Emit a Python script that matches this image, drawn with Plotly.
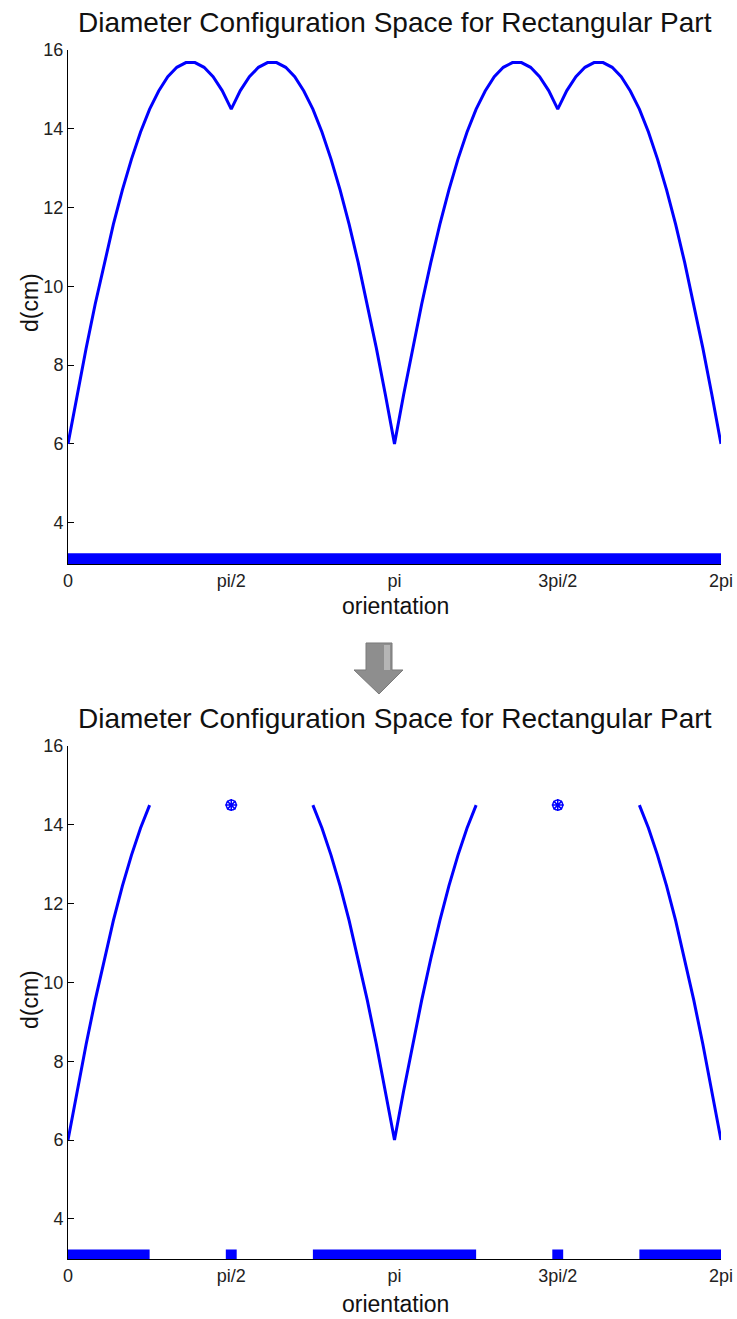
import plotly.graph_objects as go

W, H = 737, 1319

# ---------------- data ----------------
orientation_deg = [0, 5, 10, 15, 20, 25, 30, 35, 40, 45, 50, 55, 60, 65, 70, 75, 80, 85,
                   90, 95, 100, 105, 110, 115, 120, 125, 130, 135, 140, 145, 150, 155, 160, 165, 170, 175,
                   180, 185, 190, 195, 200, 205, 210, 215, 220, 225, 230, 235, 240, 245, 250, 255, 260, 265,
                   270, 275, 280, 285, 290, 295, 300, 305, 310, 315, 320, 325, 330, 335, 340, 345, 350, 355,
                   360]
diameter_cm = [6.00, 7.24, 8.43, 9.55, 10.60, 11.57, 12.45, 13.23, 13.92, 14.50, 14.96, 15.32, 15.56, 15.68, 15.68, 15.56, 15.32, 14.97,
               14.50, 14.97, 15.32, 15.56, 15.68, 15.68, 15.56, 15.32, 14.96, 14.50, 13.92, 13.23, 12.45, 11.57, 10.60, 9.55, 8.43, 7.24,
               6.00, 7.24, 8.43, 9.55, 10.60, 11.57, 12.45, 13.23, 13.92, 14.50, 14.96, 15.32, 15.56, 15.68, 15.68, 15.56, 15.32, 14.97,
               14.50, 14.97, 15.32, 15.56, 15.68, 15.68, 15.56, 15.32, 14.96, 14.50, 13.92, 13.23, 12.45, 11.57, 10.60, 9.55, 8.43, 7.24,
               6.00]
# feasible (d <= 14.5) part of the curve, shown in the lower panel
diameter_feasible = [6.00, 7.24, 8.43, 9.55, 10.60, 11.57, 12.45, 13.23, 13.92, 14.50, None, None, None, None, None, None, None, None,
                     None, None, None, None, None, None, None, None, None, 14.50, 13.92, 13.23, 12.45, 11.57, 10.60, 9.55, 8.43, 7.24,
                     6.00, 7.24, 8.43, 9.55, 10.60, 11.57, 12.45, 13.23, 13.92, 14.50, None, None, None, None, None, None, None, None,
                     None, None, None, None, None, None, None, None, None, 14.50, 13.92, 13.23, 12.45, 11.57, 10.60, 9.55, 8.43, 7.24,
                     6.00]
isolated_x = [90, 270]
isolated_d = [14.5, 14.5]

top_intervals = [(0, 360)]
bottom_intervals = [(0, 45), (87, 93), (135, 225), (267, 273), (315, 360)]
band_low, band_high = 2.85, 3.22

tick_vals = [0, 90, 180, 270, 360]
tick_text = ["0", "pi/2", "pi", "3pi/2", "2pi"]
y_ticks = [4, 6, 8, 10, 12, 14, 16]
title_text = "Diameter Configuration Space for Rectangular Part"

BLUE = "#0000ff"
FONT = "Liberation Sans, Arial, sans-serif"


def px_x(p):
    return p / W


def px_y(p):
    return 1 - p / H


def band_trace(intervals, xa, ya):
    xs, ys = [], []
    for a, b in intervals:
        xs += [a, b, b, a, a, None]
        ys += [band_low, band_low, band_high, band_high, band_low, None]
    return go.Scatter(x=xs, y=ys, fill="toself", fillcolor=BLUE, mode="lines",
                      line=dict(color=BLUE, width=0), xaxis=xa, yaxis=ya,
                      hoverinfo="skip", showlegend=False)


fig = go.Figure()

# top panel
fig.add_trace(go.Scatter(x=orientation_deg, y=diameter_cm, mode="lines",
                         line=dict(color=BLUE, width=3), xaxis="x", yaxis="y", showlegend=False))
fig.add_trace(band_trace(top_intervals, "x", "y"))

# bottom panel
fig.add_trace(go.Scatter(x=orientation_deg, y=diameter_feasible, mode="lines",
                         line=dict(color=BLUE, width=3), connectgaps=False,
                         xaxis="x2", yaxis="y2", showlegend=False))
fig.add_trace(go.Scatter(x=isolated_x, y=isolated_d, mode="markers",
                         marker=dict(symbol="circle-open", size=10, color=BLUE, line=dict(width=1.5, color=BLUE)),
                         xaxis="x2", yaxis="y2", showlegend=False))
fig.add_trace(go.Scatter(x=isolated_x, y=isolated_d, mode="markers",
                         marker=dict(symbol="asterisk-open", size=10, color=BLUE, line=dict(width=1.5, color=BLUE)),
                         xaxis="x2", yaxis="y2", showlegend=False))
fig.add_trace(band_trace(bottom_intervals, "x2", "y2"))

xdom = [px_x(68), px_x(721)]
axis_common = dict(showline=True, linecolor="black", linewidth=1, mirror=False,
                   showgrid=False, zeroline=False, ticks="inside", ticklen=6,
                   tickcolor="black", tickfont=dict(family=FONT, size=18, color="#222"),
                   layer="below traces", automargin=False)

fig.update_layout(
    width=W, height=H, margin=dict(l=0, r=0, t=0, b=0, pad=0),
    paper_bgcolor="white", plot_bgcolor="white", showlegend=False,
    xaxis=dict(domain=xdom, range=[0, 360], tickvals=tick_vals, ticktext=tick_text,
               anchor="y", **axis_common),
    yaxis=dict(domain=[px_y(564), px_y(50)], range=[2.95, 16], tickvals=y_ticks,
               anchor="x", **axis_common),
    xaxis2=dict(domain=xdom, range=[0, 360], tickvals=tick_vals, ticktext=tick_text,
                anchor="y2", **axis_common),
    yaxis2=dict(domain=[px_y(1259), px_y(746)], range=[2.98, 16], tickvals=y_ticks,
                anchor="x2", **axis_common),
)

ann_font_title = dict(family=FONT, size=28, color="#111")
ann_font_axis = dict(family=FONT, size=23, color="#111")
for ty, oy, dy in [(22, 606, 303), (718, 1304, 1000)]:
    fig.add_annotation(x=px_x(395), y=px_y(ty), xref="paper", yref="paper", text=title_text,
                       showarrow=False, font=ann_font_title, xanchor="center", yanchor="middle")
    fig.add_annotation(x=px_x(395), y=px_y(oy), xref="paper", yref="paper", text="orientation",
                       showarrow=False, font=ann_font_axis, xanchor="center", yanchor="middle")
    fig.add_annotation(x=px_x(30), y=px_y(dy), xref="paper", yref="paper", text="d(cm)",
                       showarrow=False, font=ann_font_axis, textangle=-90,
                       xanchor="center", yanchor="middle")

# grey down arrow between panels
pts = [(366, 643), (392, 643), (392, 670), (403, 670), (379, 694), (354, 670), (366, 670)]
path = "M " + " L ".join(f"{px_x(a):.5f},{px_y(b):.5f}" for a, b in pts) + " Z"
fig.add_shape(type="path", path=path, xref="paper", yref="paper",
              fillcolor="#8e8e8e", line=dict(color="#7a7a7a", width=1))
pts2 = [(384, 645), (390, 645), (390, 670), (384, 670)]
path2 = "M " + " L ".join(f"{px_x(a):.5f},{px_y(b):.5f}" for a, b in pts2) + " Z"
fig.add_shape(type="path", path=path2, xref="paper", yref="paper",
              fillcolor="#b5b5b5", line=dict(width=0))

fig.write_html("out.html")
